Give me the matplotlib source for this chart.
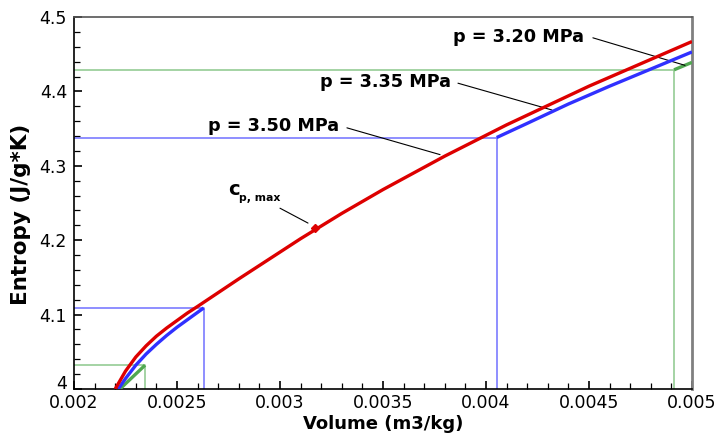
import matplotlib
matplotlib.use("Agg")
import matplotlib.pyplot as plt
from matplotlib.ticker import MultipleLocator, FuncFormatter

plt.rcParams['font.family'] = ['DejaVu Sans']

# ---- data ----
# p = 3.50 MPa (red)
red_v = [0.00220, 0.00225, 0.00230, 0.00235, 0.00240, 0.00245, 0.00250,
         0.00255, 0.00260, 0.00270, 0.00280, 0.00290, 0.00300, 0.00310,
         0.00320, 0.00330, 0.00340, 0.00350, 0.00360, 0.00370, 0.00380,
         0.00390, 0.00400, 0.00410, 0.00420, 0.00430, 0.00440, 0.00450,
         0.00460, 0.00470, 0.00480, 0.00490, 0.00500]
red_s = [4.000, 4.024, 4.043, 4.058, 4.071, 4.082, 4.092,
         4.102, 4.111, 4.1295, 4.148, 4.166, 4.184, 4.202,
         4.219, 4.236, 4.252, 4.268, 4.283, 4.298, 4.313,
         4.327, 4.341, 4.355, 4.368, 4.381, 4.394, 4.407,
         4.419, 4.431, 4.443, 4.455, 4.467]
# p = 3.35 MPa (blue), two branches
blue1_v = [0.002215, 0.00225, 0.00230, 0.00235, 0.00240, 0.00245, 0.00250,
           0.00255, 0.00260, 0.00263]
blue1_s = [4.000, 4.014, 4.032, 4.047, 4.060, 4.072, 4.083,
           4.093, 4.103, 4.109]
blue2_v = [0.004052, 0.00420, 0.00440, 0.00460, 0.00480, 0.00500]
blue2_s = [4.338, 4.357, 4.383, 4.407, 4.430, 4.453]
# p = 3.20 MPa (green), two branches
green1_v = [0.002223, 0.002345]
green1_s = [4.000, 4.032]
green2_v = [0.004913, 0.005]
green2_s = [4.429, 4.439]
# c_p,max point
cpmax_v = [0.003170]
cpmax_s = [4.216]

labels = ["p = 3.20 MPa", "p = 3.35 MPa", "p = 3.50 MPa"]
xticks = [0.002, 0.0025, 0.003, 0.0035, 0.004, 0.0045, 0.005]
yticks = [4.0, 4.1, 4.2, 4.3, 4.4, 4.5]
XLIM = (0.002, 0.005)
YLIM = (4.0, 4.5)

RED = '#dd0000'
BLUE = '#3030ff'
GREEN = '#50a850'
BLUE_THIN = '#7070ff'
GREEN_THIN = '#8cc88c'

fig = plt.figure(figsize=(7.17, 4.41), dpi=100)
ax = fig.add_axes([0.1032, 0.1179, 0.8619, 0.8436])

# guide lines (thin) from branch end points
for v, s, c in [(blue1_v[-1], blue1_s[-1], BLUE_THIN),
                (blue2_v[0], blue2_s[0], BLUE_THIN),
                (green1_v[-1], green1_s[-1], GREEN_THIN),
                (green2_v[0], green2_s[0], GREEN_THIN)]:
    ax.plot([XLIM[0], v, v], [s, s, YLIM[0]], color=c, lw=1.1, zorder=2)

ax.plot(green1_v, green1_s, color=GREEN, lw=2.4, zorder=3, solid_capstyle='butt')
ax.plot(green2_v, green2_s, color=GREEN, lw=2.4, zorder=3, solid_capstyle='butt')
ax.plot(blue1_v, blue1_s, color=BLUE, lw=2.4, zorder=4, solid_capstyle='butt')
ax.plot(blue2_v, blue2_s, color=BLUE, lw=2.4, zorder=4, solid_capstyle='butt')
ax.plot(red_v, red_s, color=RED, lw=2.4, zorder=5, solid_capstyle='butt')
ax.plot(cpmax_v, cpmax_s, marker='D', color=RED, ms=4.5, ls='none', zorder=6)

# annotations
ann_kw = dict(arrowprops=dict(arrowstyle='-', lw=0.8, color='black',
                              shrinkA=0, shrinkB=0))
ax.text(0.004160, 4.473, labels[0], ha='center', va='center',
        fontsize=12.7, fontweight='bold')
ax.annotate('', xy=(0.004966, 4.435), xytext=(0.004519, 4.472), **ann_kw)
ax.text(0.003510, 4.413, labels[1], ha='center', va='center',
        fontsize=12.7, fontweight='bold')
ax.annotate('', xy=(0.004320, 4.375), xytext=(0.003864, 4.411), **ann_kw)
ax.text(0.002971, 4.353, labels[2], ha='center', va='center',
        fontsize=12.7, fontweight='bold')
ax.annotate('', xy=(0.003777, 4.315), xytext=(0.003325, 4.351), **ann_kw)
ax.text(0.002748, 4.261, 'c', ha='left', va='baseline', fontsize=14,
        fontweight='bold')
ax.text(0.002801, 4.253, 'p, max', ha='left', va='baseline', fontsize=7.8,
        fontweight='bold')
ax.annotate('', xy=(0.003136, 4.223), xytext=(0.003000, 4.243), **ann_kw)

ax.set_xlim(*XLIM)
ax.set_ylim(*YLIM)
ax.set_xticks(xticks)
ax.set_yticks(yticks)
ax.xaxis.set_minor_locator(MultipleLocator(0.0001))
ax.yaxis.set_minor_locator(MultipleLocator(0.02))
ax.xaxis.set_major_formatter(FuncFormatter(lambda v, p: ('%.4f' % v).rstrip('0')))
ax.yaxis.set_major_formatter(FuncFormatter(lambda v, p: ('%.1f' % v).rstrip('0').rstrip('.')))
ax.tick_params(which='both', direction='in', top=False, right=False,
               labelsize=12.5, color='black')
ax.tick_params(which='major', length=6, width=1.2)
ax.tick_params(which='minor', length=4.5, width=0.9)
ax.tick_params(axis='x', pad=3.5)
ax.tick_params(axis='y', pad=5)

for side in ['left', 'bottom']:
    ax.spines[side].set_color('black')
    ax.spines[side].set_linewidth(1.2)
ax.spines['top'].set_color('#555555')
ax.spines['top'].set_linewidth(1.2)
ax.spines['right'].set_color('#808080')
ax.spines['right'].set_linewidth(2.0)

ax.set_xlabel('Volume (m3/kg)', fontsize=13, fontweight='bold', labelpad=2)
ax.set_ylabel('Entropy (J/g*K)', fontsize=15.5, fontweight='bold')
ax.yaxis.set_label_coords(-0.070, 0.47)

fig.canvas.draw()
ylabs = ax.get_yticklabels()
ylabs[0].set_va('baseline')

fig.savefig('out.png', dpi=100)
